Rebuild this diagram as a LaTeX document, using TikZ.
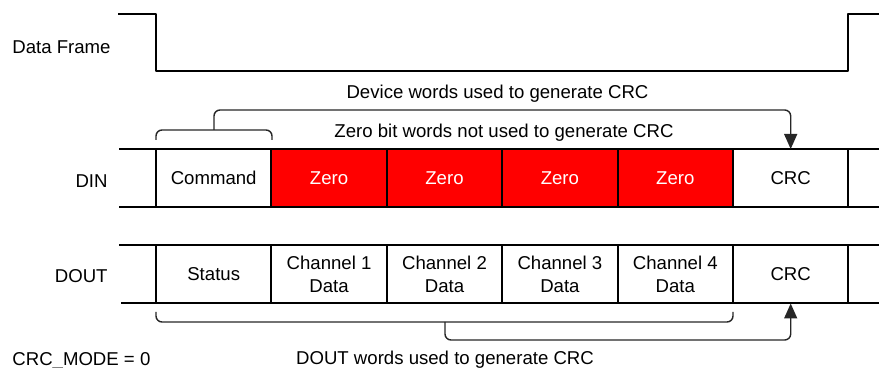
\documentclass[tikz,border=0pt]{standalone}
\usepackage{fontspec}
\setmainfont{Liberation Sans}
\usetikzlibrary{arrows.meta,positioning}
\tikzset{frame/.style={
  x=0.5pt,y=-0.5pt,
  >={Triangle[length=7.5pt,width=6.5pt]},line join=round,
  font=\fontsize{9.3}{11.4}\selectfont
},
word/.style={draw,line width=1pt,outer sep=0pt,inner sep=0pt,
  minimum width=57.7pt,minimum height=29pt,align=center},
zeroword/.style={word,fill=red,text=white},
signal/.style={line width=1pt},
bracket/.style={line width=0.7pt,black!85,rounded corners=3pt},
lbl/.style={inner sep=0pt}
}

\begin{document}
\begin{tikzpicture}[frame]
  \useasboundingbox (0,0) rectangle (879,368);
  % data frame signal
  \draw[signal] (118,14) -- (156,14) -- (156,71) -- (848,71) -- (848,14) -- (879,14);
  \node[lbl,anchor=base west] (frame-lbl) at (12,54) {Data Frame};
  % DIN words
  \node[word] (din-cmd) at (213.7,178) {Command};
  \node[zeroword,right=0pt of din-cmd] (din-z1) {Zero};
  \node[zeroword,right=0pt of din-z1] (din-z2) {Zero};
  \node[zeroword,right=0pt of din-z2] (din-z3) {Zero};
  \node[zeroword,right=0pt of din-z3] (din-z4) {Zero};
  \node[word,right=0pt of din-z4] (din-crc) {CRC};
  \draw[signal] (119,149) -- (879,149);
  \draw[signal] (119,207) -- (879,207);
  \node[lbl,anchor=base east] (din-lbl) at (108,188) {DIN};
  % DOUT words
  \node[word] (dout-st) at (213.7,274.5) {Status};
  \node[word,right=0pt of dout-st] (dout-c1) {Channel 1\\Data};
  \node[word,right=0pt of dout-c1] (dout-c2) {Channel 2\\Data};
  \node[word,right=0pt of dout-c2] (dout-c3) {Channel 3\\Data};
  \node[word,right=0pt of dout-c3] (dout-c4) {Channel 4\\Data};
  \node[word,right=0pt of dout-c4] (dout-crc) {CRC};
  \draw[signal] (119,245.5) -- (879,245.5);
  \draw[signal] (121,303.5) -- (879,303.5);
  \node[lbl,anchor=base east] (dout-lbl) at (108,283) {DOUT};
  % brackets
  \draw[bracket] (156,140) -- (156,130) -- (272,130) -- (272,140);
  \coordinate (cmd-tip) at (214,130);
  \draw[bracket,->] (cmd-tip) -- (214,110) -| (din-crc.north);
  \node[lbl,anchor=base] (dev-lbl) at (497.5,99) {Device words used to generate CRC};
  \node[lbl,anchor=base] (zero-lbl) at (504,138) {Zero bit words not used to generate CRC};
  \draw[bracket] (156,312) -- (156,322) -- (733,322) -- (733,312);
  \coordinate (dout-tip) at (445,322);
  \draw[bracket,->] (dout-tip) -- (445,340) -| (dout-crc.south);
  \node[lbl,anchor=base] (dout-words) at (445,365) {DOUT words used to generate CRC};
  \node[lbl,anchor=base west] (mode-lbl) at (12,366) {CRC\_MODE = 0};
\end{tikzpicture}
\end{document}
